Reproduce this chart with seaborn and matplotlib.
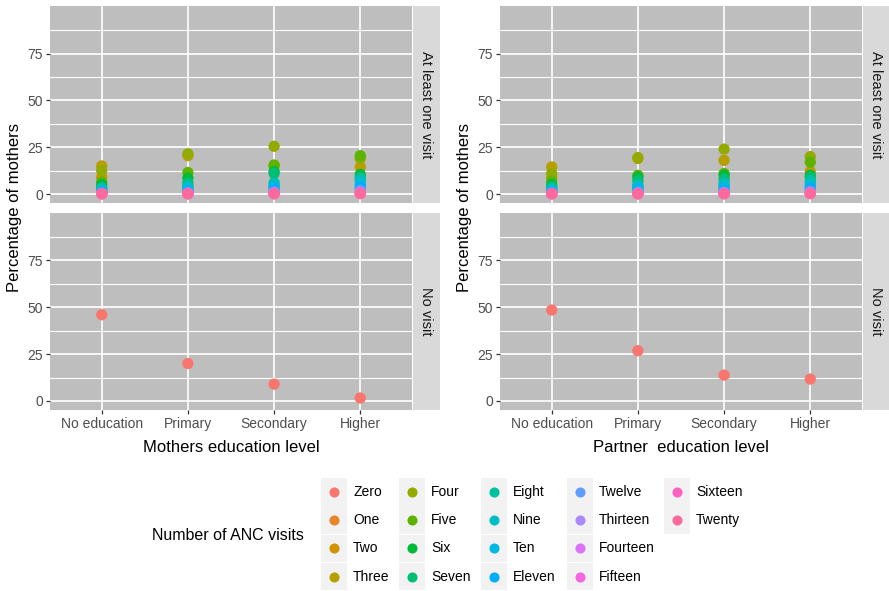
import numpy as np
import pandas as pd
import seaborn as sns
import matplotlib
matplotlib.use("Agg")
import matplotlib.pyplot as plt
from matplotlib.patches import Rectangle

# ---------------------------------------------------------------- data
visits = ["Zero", "One", "Two", "Three", "Four", "Five", "Six", "Seven",
          "Eight", "Nine", "Ten", "Eleven", "Twelve", "Thirteen", "Fourteen",
          "Fifteen", "Sixteen", "Twenty"]
edu_levels = ["No education", "Primary", "Secondary", "Higher"]

# % of mothers with at least one visit, by number of visits (One .. Twenty)
mother_noedu = [3, 9, 15, 12.5, 6.5, 5, 3.5, 3, 2, 1.5, 1, 0.5, 0.3, 0.2, 0.2, 0.1, 0.1]
mother_primary = [1.5, 4, 20.5, 21.5, 11.5, 8.5, 6, 4.5, 3.5, 2.5, 1.5, 0.8, 0.4, 0.3, 0.2, 0.1, 0.1]
mother_secondary = [1, 3.5, 15, 25.5, 15.5, 12, 11, 6, 5, 4, 2.5, 1.2, 0.6, 0.4, 0.3, 0.2, 0.1]
mother_higher = [0.5, 3, 14.5, 19, 20.5, 10.5, 9, 8, 7, 5, 3.5, 2, 1, 0.6, 0.4, 0.3, 0.2]

partner_noedu = [3, 9, 14.5, 11, 7, 5, 4, 3, 2, 1.5, 1, 0.5, 0.3, 0.2, 0.2, 0.1, 0.1]
partner_primary = [1.5, 4, 19, 19.5, 10, 9, 7, 5, 4, 3, 2, 1, 0.5, 0.3, 0.2, 0.1, 0.1]
partner_secondary = [1, 4, 18, 24, 11, 10, 8, 6, 5, 3.5, 2, 1, 0.5, 0.4, 0.3, 0.2, 0.1]
partner_higher = [0.5, 3, 12, 20, 17, 10, 9, 7, 5.5, 4, 3, 1.5, 0.8, 0.5, 0.4, 0.3, 0.2]

# % of mothers with no visit (Zero visits)
mother_novisit = [46, 20, 9, 1.6]
partner_novisit = [48.5, 26.8, 13.8, 11.7]


# ---------------------------------------------------------------- palette
def hcl_hex(h, c=100.0, l=65.0):
    """Polar CIE-LUV -> sRGB hex (ggplot2 hue palette)."""
    hr = np.deg2rad(h)
    u, v = c * np.cos(hr), c * np.sin(hr)
    Xn, Yn, Zn = 95.047, 100.0, 108.883
    Y = Yn * ((l + 16) / 116) ** 3 if l > 8 else Yn * l / 903.3
    den = Xn + 15 * Yn + 3 * Zn
    un, vn = 4 * Xn / den, 9 * Yn / den
    up, vp = u / (13 * l) + un, v / (13 * l) + vn
    X = Y * 9 * up / (4 * vp)
    Z = Y * (12 - 3 * up - 20 * vp) / (4 * vp)
    M = np.array([[3.240479, -1.537150, -0.498535],
                  [-0.969256, 1.875992, 0.041556],
                  [0.055648, -0.204043, 1.057311]])
    rgb = M @ (np.array([X, Y, Z]) / 100)
    rgb = np.where(rgb <= 0.0031308, 12.92 * rgb, 1.055 * np.abs(rgb) ** (1 / 2.4) - 0.055)
    rgb = np.clip(rgb, 0, 1)
    return "#%02X%02X%02X" % tuple(int(round(x * 255)) for x in rgb)


n = len(visits)
palette = {lev: hcl_hex(15 + 360 / n * i) for i, lev in enumerate(visits)}


def any_visit_frame(cols):
    rows = []
    for j, lev in enumerate(visits[1:]):
        for e, vals in zip(edu_levels, cols):
            rows.append((e, lev, vals[j]))
    df = pd.DataFrame(rows, columns=["edu", "visits", "pct"])
    df["edu"] = pd.Categorical(df["edu"], categories=edu_levels, ordered=True)
    return df


def no_visit_frame(vals):
    df = pd.DataFrame({"edu": edu_levels, "visits": "Zero", "pct": vals})
    df["edu"] = pd.Categorical(df["edu"], categories=edu_levels, ordered=True)
    return df


# ---------------------------------------------------------------- figure
sns.set_theme(style="white")
plt.rcParams["font.family"] = ["Liberation Sans", "DejaVu Sans"]

W, H = 889, 591
fig = plt.figure(figsize=(W / 100, H / 100), dpi=100)
fig.patch.set_facecolor("white")


def px_axes(x0, y0, x1, y1):
    return fig.add_axes([x0 / W, 1 - y1 / H, (x1 - x0) / W, (y1 - y0) / H])


PANEL = "#BEBEBE"
STRIP = "#D9D9D9"
S = 66


def style_panel(ax, show_x):
    ax.set_facecolor(PANEL)
    for sp in ax.spines.values():
        sp.set_visible(False)
    ax.set_xlim(-0.6, 3.6)
    ax.set_ylim(-4.8, 100.5)
    ax.set_yticks([0, 25, 50, 75])
    ax.set_yticks([12.5, 37.5, 62.5, 87.5], minor=True)
    ax.set_xticks(range(len(edu_levels)))
    ax.grid(True, which="major", color="white", linewidth=1.2)
    ax.grid(True, which="minor", axis="y", color="white", linewidth=0.8)
    ax.set_axisbelow(True)
    ax.tick_params(axis="both", which="major", length=3, width=0.9, color="#333333",
                   labelcolor="#4D4D4D", labelsize=10, pad=2,
                   left=True, bottom=True)
    ax.tick_params(axis="y", which="minor", length=0)
    if show_x:
        ax.set_xticklabels(edu_levels)
    else:
        ax.set_xticklabels([])
        ax.tick_params(axis="x", length=0)
    ax.set_xlabel("")
    ax.set_ylabel("")


def strip(x0, y0, x1, y1, label):
    sa = px_axes(x0, y0, x1, y1)
    sa.set_facecolor(STRIP)
    sa.set_xticks([])
    sa.set_yticks([])
    for sp in sa.spines.values():
        sp.set_visible(False)
    sa.text(0.5, 0.5, label, rotation=-90, ha="center", va="center",
            fontsize=10.5, color="#1A1A1A", transform=sa.transAxes)


panels = [
    (0, [mother_noedu, mother_primary, mother_secondary, mother_higher],
     mother_novisit, "Mothers education level"),
    (450, [partner_noedu, partner_primary, partner_secondary, partner_higher],
     partner_novisit, "Partner  education level"),
]

for dx, any_cols, none_vals, xtitle in panels:
    px0, px1 = 50 + dx, 412 + dx
    ax_top = px_axes(px0, 6, px1, 203)
    sns.scatterplot(data=any_visit_frame(any_cols), x="edu", y="pct", hue="visits",
                    hue_order=visits, palette=palette, s=S, linewidth=0,
                    legend=False, ax=ax_top)
    style_panel(ax_top, show_x=False)

    ax_bot = px_axes(px0, 212.5, px1, 410)
    sns.scatterplot(data=no_visit_frame(none_vals), x="edu", y="pct", hue="visits",
                    hue_order=visits, palette=palette, s=S, linewidth=0,
                    legend=False, ax=ax_bot)
    style_panel(ax_bot, show_x=True)

    strip(px1 + 0.5, 6, min(px1 + 28, W), 203, "At least one visit")
    strip(px1 + 0.5, 212.5, min(px1 + 28, W), 410, "No visit")

    fig.text((15 + dx) / W, 1 - 208 / H, "Percentage of mothers", rotation=90,
             ha="center", va="center", fontsize=12, color="black")
    fig.text((px0 + px1) / 2 / W, 1 - 448 / H, xtitle, ha="center", va="center",
             fontsize=12, color="black")

# ---------------------------------------------------------------- legend
leg = fig.add_axes([0, 0, 1, 1])
leg.set_xlim(0, W)
leg.set_ylim(H, 0)
leg.axis("off")
leg.patch.set_alpha(0)

leg.text(152, 535, "Number of ANC visits", ha="left", va="center",
         fontsize=11.5, color="black")
col_left = [321, 399, 481, 567, 664]
key_w, key_h, row_top, row_step = 26, 27.5, 478, 28.3
for i, lev in enumerate(visits):
    c, r = i // 4, i % 4
    x0 = col_left[c]
    y0 = row_top + r * row_step
    leg.add_patch(Rectangle((x0, y0), key_w, key_h, facecolor="#F2F2F2",
                            edgecolor="none"))
    leg.scatter([x0 + key_w / 2], [y0 + key_h / 2], s=S * 0.8,
                color=palette[lev], linewidth=0)
    leg.text(x0 + key_w + 6, y0 + key_h / 2, lev, ha="left", va="center",
             fontsize=10, color="black")

fig.savefig("out.png", dpi=100, facecolor="white")
